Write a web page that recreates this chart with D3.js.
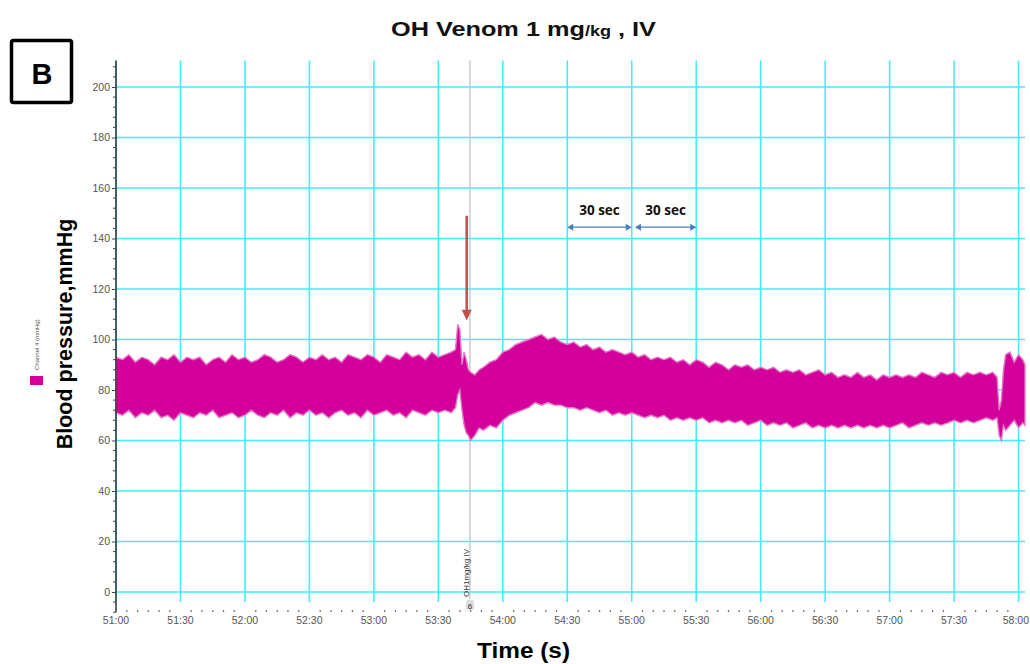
<!DOCTYPE html>
<meta charset="utf-8">
<title>OH Venom 1 mg/kg, IV</title>
<script src="https://d3js.org/d3.v7.min.js"></script>
<style>
  body { margin: 0; background: #fff; }
  svg text { font-family: "Liberation Sans", Arial, sans-serif; }
</style>
<div id="my_dataviz"></div>
<script>

// time in seconds after 51:00, blood pressure envelope (mmHg)
var timeSec = [0,3,6,9,12,15,18,21,24,27,30,33,36,39,42,45,48,51,54,57,60,63,66,69,72,75,78,81,84,87,90,93,96,99,102,105,108,111,114,117,120,123,126,129,132,135,138,141,144,147,150,153,156,
  158,159,160,161,162,163,164,165,167,169,171,174,177,180,183,186,189,192,195,198,201,204,207,210,213,216,219,222,225,228,231,234,237,240,243,246,249,252,255,258,261,264,267,270,273,276,279,282,285,288,291,294,297,300,303,306,309,312,315,318,321,324,327,330,333,336,339,342,345,348,351,354,357,360,363,366,369,372,375,378,381,384,387,390,393,396,399,402,405,408,410,411,412,413,414,416,418,420,422,423];

var systolic = [93,92,94,91,93,92,90,93,92,94,91,93,92,93,90,92,93,91,94,92,93,91,92,94,93,91,92,94,93,91,93,92,94,92,93,91,94,93,92,94,93,91,94,93,92,95,93,94,92,95,93,94,95,
  96,106,104,90,95,92,88,87,86,88,89,91,92,95,96,98,99,100,101,102,100,101,99,98,99,97,98,96,97,95,96,95,94,95,93,94,92,93,92,93,91,92,90,92,91,89,91,90,88,90,89,90,88,89,88,89,87,88,87,88,86,87,88,86,87,85,86,85,87,85,86,84,86,85,86,85,86,85,87,86,85,87,86,87,85,87,86,87,86,87,85,72,76,88,94,95,91,94,92,90];

var diastolic = [71,70,72,69,71,70,72,69,70,68,71,70,69,71,70,72,69,70,71,69,70,72,70,69,71,70,72,69,71,70,72,70,71,69,71,72,70,71,69,72,70,71,72,70,71,69,72,71,70,72,71,72,71,
  73,78,80,72,66,63,62,60,62,65,64,66,65,68,70,71,72,73,75,74,75,74,74,73,73,72,73,72,71,72,70,71,70,71,70,69,70,69,70,68,69,68,69,68,69,67,68,67,68,67,68,66,67,68,66,67,66,67,65,66,67,65,66,65,66,65,66,65,66,65,66,65,66,65,66,67,65,66,67,66,67,66,67,68,67,68,67,68,69,68,69,62,60,66,64,66,68,65,67,66];

var yTicks = [0,20,40,60,80,100,120,140,160,180,200];
var xTicks = [0,30,60,90,120,150,180,210,240,270,300,330,360,390,420];
var xTickLabels = ["51:00","51:30","52:00","52:30","53:00","53:30","54:00","54:30","55:00","55:30","56:00","56:30","57:00","57:30","58:00"];

var eventSec = 164.7;          // OH 1 mg/kg IV injection
var spanMarks = [[210, 240], [241.5, 270]];   // "30 sec" brackets

var data = timeSec.map(function(t, i) { return {t: t, hi: systolic[i], lo: diastolic[i]}; });

var width = 1030, height = 664;
var svg = d3.select("#my_dataviz")
  .append("svg")
    .attr("width", width)
    .attr("height", height);

var x = d3.scaleLinear().domain([0, 423]).range([116, 1025]);
var y = d3.scaleLinear().domain([0, 200]).range([592, 87]);

var gridColor = "#41eefa";

// grid
svg.append("g").selectAll("line.v")
  .data(xTicks)
  .enter().append("line")
    .attr("x1", function(d) { return x(d); })
    .attr("x2", function(d) { return x(d); })
    .attr("y1", y(210.5))
    .attr("y2", y(-4))
    .attr("stroke", gridColor)
    .attr("stroke-width", 1.6);

svg.append("g").selectAll("line.h")
  .data(yTicks)
  .enter().append("line")
    .attr("x1", x(0))
    .attr("x2", x(423))
    .attr("y1", function(d) { return y(d); })
    .attr("y2", function(d) { return y(d); })
    .attr("stroke", gridColor)
    .attr("stroke-width", 1.6);

// event marker line
svg.append("line")
  .attr("x1", x(eventSec)).attr("x2", x(eventSec))
  .attr("y1", y(210.5)).attr("y2", y(-3))
  .attr("stroke", "#c4c4c4")
  .attr("stroke-width", 1.3);

// pressure trace
var area = d3.area()
  .x(function(d) { return x(d.t); })
  .y0(function(d) { return y(d.lo); })
  .y1(function(d) { return y(d.hi); });

svg.append("path")
  .datum(data)
  .attr("d", area)
  .attr("fill", "#d4009b")
  .attr("stroke", "#e27ac6")
  .attr("stroke-width", 1.4)
  .attr("stroke-linejoin", "miter");

// y axis
var yAxis = d3.axisLeft(y).tickValues(yTicks).tickSize(4).tickPadding(2);
var gy = svg.append("g")
  .attr("transform", "translate(" + x(0) + ",0)")
  .call(yAxis);
gy.select(".domain").attr("d", "M0," + y(210.5) + "V" + y(-8)).attr("stroke", "#333").attr("stroke-width", 1.5);
gy.selectAll(".tick line").attr("stroke", "#444");
gy.selectAll(".tick text").attr("fill", "#555").style("font-size", "10.5px");

var minorY = d3.range(-8, 212, 4).filter(function(v) { return v % 20 !== 0; });
svg.append("g").selectAll("line")
  .data(minorY)
  .enter().append("line")
    .attr("x1", x(0) - 3).attr("x2", x(0))
    .attr("y1", function(d) { return y(d); })
    .attr("y2", function(d) { return y(d); })
    .attr("stroke", "#444")
    .attr("stroke-width", 1);

// x axis (labels and dotted minor ticks, no line)
svg.append("g").selectAll("text")
  .data(xTicks)
  .enter().append("text")
    .attr("x", function(d, i) { return i === xTicks.length - 1 ? 1029 : x(d); })
    .attr("y", 624)
    .attr("text-anchor", function(d, i) { return i === xTicks.length - 1 ? "end" : "middle"; })
    .attr("fill", "#555")
    .style("font-size", "10.5px")
    .text(function(d, i) { return xTickLabels[i]; });

var minorX = d3.range(5, 423, 5).filter(function(v) { return v % 30 !== 0; });
svg.append("g").selectAll("rect")
  .data(minorX)
  .enter().append("rect")
    .attr("x", function(d) { return x(d) - 0.6; })
    .attr("y", 610)
    .attr("width", 1.3)
    .attr("height", 2)
    .attr("fill", "#777");

// event label
svg.append("text")
  .attr("transform", "translate(" + (x(eventSec) - 1) + ",597) rotate(-90)")
  .attr("fill", "#333")
  .style("font-size", "8px")
  .text("OH1mg/kg IV");

svg.append("rect")
  .attr("x", x(eventSec) - 4).attr("y", 600)
  .attr("width", 8).attr("height", 10)
  .attr("rx", 2)
  .attr("fill", "#ddd");
svg.append("text")
  .attr("x", x(eventSec)).attr("y", 608.5)
  .attr("text-anchor", "middle")
  .attr("fill", "#333")
  .style("font-size", "8px")
  .text("6");

// red injection arrow
svg.append("line")
  .attr("x1", x(163.2)).attr("x2", x(163.2))
  .attr("y1", y(149)).attr("y2", y(111))
  .attr("stroke", "#c0504d")
  .attr("stroke-width", 2.5);
svg.append("path")
  .attr("d", "M" + (x(163.2) - 5) + "," + (y(111) - 2) + "L" + (x(163.2) + 5) + "," + (y(111) - 2) + "L" + x(163.2) + "," + (y(107.5)) + "Z")
  .attr("fill", "#c0504d");

// 30 sec brackets
var blue = "#4a7ebb";
spanMarks.forEach(function(s) {
  var x1 = x(s[0]), x2 = x(s[1]), yy = y(144.5);
  svg.append("line")
    .attr("x1", x1 + 3).attr("x2", x2 - 3)
    .attr("y1", yy).attr("y2", yy)
    .attr("stroke", blue).attr("stroke-width", 1.3);
  svg.append("path")
    .attr("d", "M" + x1 + "," + yy + "l6,-3.5v7z")
    .attr("fill", blue);
  svg.append("path")
    .attr("d", "M" + x2 + "," + yy + "l-6,-3.5v7z")
    .attr("fill", blue);
  svg.append("text")
    .attr("x", (x1 + x2) / 2)
    .attr("y", y(149.5))
    .attr("text-anchor", "middle")
    .attr("fill", "#111")
    .style("font-size", "13.5px")
    .style("font-weight", "bold")
    .style("font-family", "'Open Sans', sans-serif")
    .text("30 sec");
});

// title
var title = svg.append("text")
  .attr("x", 391)
  .attr("y", 36)
  .attr("textLength", 265)
  .attr("lengthAdjust", "spacingAndGlyphs")
  .attr("fill", "#111")
  .style("font-size", "21px")
  .style("font-weight", "bold");
title.append("tspan").text("OH Venom 1 mg");
title.append("tspan").style("font-size", "15px").text("/kg");
title.append("tspan").text(" , IV");

// panel letter
svg.append("rect")
  .attr("x", 11.5).attr("y", 40.5)
  .attr("width", 60).attr("height", 62)
  .attr("rx", 2)
  .attr("fill", "none")
  .attr("stroke", "#000")
  .attr("stroke-width", 3.5);
svg.append("text")
  .attr("x", 42).attr("y", 84)
  .attr("text-anchor", "middle")
  .attr("fill", "#000")
  .style("font-size", "29px")
  .style("font-weight", "bold")
  .text("B");

// axis titles
svg.append("text")
  .attr("transform", "translate(72,334) rotate(-90)")
  .attr("text-anchor", "middle")
  .attr("fill", "#000")
  .style("font-size", "21.5px")
  .style("font-weight", "bold")
  .text("Blood pressure,mmHg");

svg.append("text")
  .attr("x", 477)
  .attr("y", 658)
  .attr("textLength", 93)
  .attr("lengthAdjust", "spacingAndGlyphs")
  .attr("fill", "#000")
  .style("font-size", "21.5px")
  .style("font-weight", "bold")
  .text("Time (s)");

// legend
svg.append("rect")
  .attr("x", 30).attr("y", 376)
  .attr("width", 13).attr("height", 9)
  .attr("fill", "#d4009b");
svg.append("text")
  .attr("transform", "translate(39,370) rotate(-90)")
  .attr("fill", "#555")
  .style("font-size", "6px")
  .text("Channel 4 (mmHg)");

</script>
